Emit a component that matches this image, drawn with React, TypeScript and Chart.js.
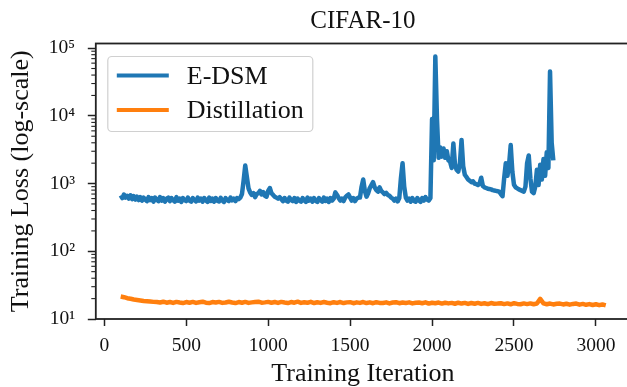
import React, { useEffect, useRef } from "react";
import { Chart, registerables } from "chart.js";

Chart.register(...registerables);

const FONT = "'Liberation Serif', 'DejaVu Serif', serif";
const TEXT_COLOR = "#111111";
const AXIS_COLOR = "#222222";

const chartTitle = "CIFAR-10";
const xAxisTitle = "Training Iteration";
const yAxisTitle = "Training Loss (log-scale)";
const seriesNames = ["E-DSM", "Distillation"];
const seriesColors = ["#1f77b4", "#ff7f0e"];

const xTickValues = [0, 500, 1000, 1500, 2000, 2500, 3000];
const yTickValues = [10, 100, 1000, 10000, 100000];
const yTickLabels = ["10¹", "10²", "10³", "10⁴", "10⁵"];

// E-DSM loss, logged every 10 iterations starting at iteration 100
const edsmFirstIter = 100;
const edsmIterStep = 10;
const edsmLoss = [
  670, 610, 690, 620, 660, 600, 670, 590, 650, 580,
  640, 570, 630, 560, 620, 580, 550, 630, 570, 610,
  540, 620, 580, 550, 630, 560, 610, 540, 600, 620,
  550, 610, 570, 540, 630, 560, 600, 535, 610, 570,
  550, 620, 560, 540, 610, 570, 545, 620, 560, 600,
  540, 610, 565, 535, 620, 555, 600, 540, 610, 560,
  545, 615, 560, 535, 610, 570, 550, 620, 565, 600,
  550, 610, 590, 620, 700, 1100, 1850, 1250, 850, 740,
  680, 720, 630, 700, 720, 780, 690, 750, 660, 640,
  780, 860, 720, 680, 640, 620, 600, 630, 590, 550,
  610, 560, 540, 620, 570, 550, 610, 535, 600, 560,
  540, 610, 565, 535, 620, 560, 600, 540, 610, 555,
  535, 610, 570, 540, 620, 555, 600, 535, 610, 560,
  600, 740, 680, 610, 560, 600, 550, 620, 660, 690,
  620, 560, 610, 550, 600, 620, 620, 900, 1150, 780,
  640, 720, 860, 950, 1050, 880, 800, 760, 880, 780,
  740, 700, 730, 680, 660, 620, 600, 560, 600, 545,
  610, 1200, 2000, 900, 620, 560, 600, 540, 610, 555,
  540, 610, 565, 535, 610, 560, 630, 580, 560, 610,
  9000, 2200, 75000, 9200, 2400, 3400, 2500, 3300, 2400, 3000,
  2200, 2100, 1700, 3900, 1900, 1600, 1500, 2000, 4400, 1800,
  1350, 1250, 1150, 1100, 1050, 1080, 1000, 980, 950, 1000,
  1220, 920, 880, 860, 840, 830, 820, 800, 790, 780,
  770, 760, 700, 650, 1200, 2000, 1300, 1900, 3700, 1500,
  960, 880, 850, 820, 800, 780, 760, 900, 2000, 2600,
  1200, 760, 720, 900, 1600, 950, 1900, 1150, 2300, 1300,
  2900, 1700, 45000, 4000, 2200,
];

// Distillation loss, logged every 20 iterations starting at iteration 100
const distFirstIter = 100;
const distIterStep = 20;
const distLoss = [
  21.5, 21.0, 20.3, 19.9, 19.4, 19.1, 18.8, 18.5, 18.3, 18.1, 17.9,
  17.8, 17.5, 18.0, 17.4, 17.8, 17.3, 17.9, 17.5, 17.2, 17.8,
  17.4, 17.9, 17.3, 17.7, 18.0, 17.4, 17.2, 17.8, 17.5, 17.9,
  17.3, 17.5, 18.0, 17.5, 17.2, 17.8, 17.4, 17.9, 17.3, 17.6,
  17.8, 18.0, 17.4, 17.6, 17.9,
  17.4, 17.8, 17.3, 17.9, 17.5, 17.2, 17.8, 17.4, 18.0, 17.3,
  17.7, 17.4, 17.9, 17.2, 17.7, 17.3, 17.8, 17.4, 17.1, 17.7,
  17.3, 17.8, 17.2, 17.6, 17.7, 17.1, 17.6, 17.3, 17.8, 17.2,
  17.6, 17.1, 17.7, 17.3, 17.2, 17.6, 17.0, 17.5, 17.7, 17.1,
  17.5, 17.2, 17.6, 17.0, 17.4, 17.5, 17.1, 17.6, 16.9, 17.4,
  17.1, 17.5, 16.9, 17.4, 17.0, 17.3, 16.8, 17.4, 16.9, 17.3,
  16.7, 17.2, 16.8, 17.3, 16.7, 17.1, 16.6, 17.2, 16.8, 16.9,
  17.1, 16.6, 17.0, 16.5, 17.1, 16.7, 16.5, 17.0, 16.6, 17.0,
  16.5, 16.9, 19.8, 17.0, 16.5, 16.9, 16.4, 16.8, 16.9, 16.4,
  16.8, 16.3, 16.7, 16.9, 16.3, 16.7, 16.2, 16.6, 16.1, 16.5,
  16.0, 16.4, 15.9,
];

const toPoints = (first: number, step: number, values: number[]) =>
  values.map((y, i) => ({ x: first + step * i, y }));

const decorPlugin = {
  id: "decor",
  afterDatasetsDraw(chart: any) {
    const { ctx, chartArea: a, scales } = chart;
    const yScale = scales.y;
    ctx.save();
    // minor log ticks
    ctx.strokeStyle = AXIS_COLOR;
    ctx.lineWidth = 1.1;
    for (let d = 1; d <= 4; d++) {
      for (let m = 2; m <= 9; m++) {
        const v = m * Math.pow(10, d);
        if (v > yScale.max) continue;
        const py = yScale.getPixelForValue(v);
        ctx.beginPath();
        ctx.moveTo(a.left - 4.5, py);
        ctx.lineTo(a.left, py);
        ctx.stroke();
      }
    }
    // frame
    ctx.lineWidth = 1.8;
    ctx.strokeRect(a.left, a.top, a.right - a.left, a.bottom - a.top);

    // legend
    ctx.font = `26px ${FONT}`;
    const boxX = a.left + 12;
    const boxY = a.top + 13;
    const textX = boxX + 79;
    let maxW = 0;
    seriesNames.forEach((n) => (maxW = Math.max(maxW, ctx.measureText(n).width)));
    const boxW = textX + maxW + 9 - boxX;
    const boxH = 75;
    ctx.beginPath();
    const r = 4;
    ctx.moveTo(boxX + r, boxY);
    ctx.arcTo(boxX + boxW, boxY, boxX + boxW, boxY + boxH, r);
    ctx.arcTo(boxX + boxW, boxY + boxH, boxX, boxY + boxH, r);
    ctx.arcTo(boxX, boxY + boxH, boxX, boxY, r);
    ctx.arcTo(boxX, boxY, boxX + boxW, boxY, r);
    ctx.closePath();
    ctx.fillStyle = "rgba(255,255,255,0.8)";
    ctx.fill();
    ctx.strokeStyle = "#d0d0d0";
    ctx.lineWidth = 1.2;
    ctx.stroke();
    const rows = [boxY + 19, boxY + 53.5];
    seriesNames.forEach((name, i) => {
      const ry = rows[i];
      ctx.strokeStyle = seriesColors[i];
      ctx.lineWidth = 4;
      ctx.beginPath();
      ctx.moveTo(boxX + 9, ry);
      ctx.lineTo(boxX + 61, ry);
      ctx.stroke();
      ctx.fillStyle = TEXT_COLOR;
      ctx.textBaseline = "alphabetic";
      ctx.textAlign = "left";
      ctx.fillText(name, textX, ry + 8);
    });
    ctx.restore();
  },
};

export default function App() {
  const canvasRef = useRef<HTMLCanvasElement | null>(null);

  useEffect(() => {
    if (!canvasRef.current) return;
    const chart = new Chart(canvasRef.current, {
      type: "line",
      data: {
        datasets: [
          {
            label: seriesNames[0],
            data: toPoints(edsmFirstIter, edsmIterStep, edsmLoss),
            borderColor: seriesColors[0],
            backgroundColor: seriesColors[0],
            borderWidth: 4.5,
            pointRadius: 0,
            tension: 0,
            borderJoinStyle: "round",
          },
          {
            label: seriesNames[1],
            data: toPoints(distFirstIter, distIterStep, distLoss),
            borderColor: seriesColors[1],
            backgroundColor: seriesColors[1],
            borderWidth: 4.5,
            pointRadius: 0,
            tension: 0,
            borderJoinStyle: "round",
          },
        ],
      },
      options: {
        animation: false,
        responsive: false,
        devicePixelRatio: 1,
        layout: { padding: { left: 0, right: 10, top: 0, bottom: 0 } },
        plugins: {
          legend: { display: false },
          tooltip: { enabled: false },
          title: {
            display: true,
            text: chartTitle,
            fullSize: false,
            color: TEXT_COLOR,
            font: { family: FONT, size: 25, weight: "normal", lineHeight: 1.2 },
            padding: { top: 6, bottom: 7.5 },
          },
        },
        scales: {
          x: {
            type: "linear",
            min: -52,
            max: 3208,
            afterBuildTicks: (s: any) => {
              s.ticks = xTickValues.map((v) => ({ value: v }));
            },
            afterFit: (s: any) => {
              s.height = 68;
            },
            grid: {
              display: true,
              drawOnChartArea: false,
              drawTicks: true,
              tickLength: 7,
              tickColor: AXIS_COLOR,
              tickWidth: 1.5,
            },
            border: { display: false },
            ticks: {
              color: TEXT_COLOR,
              font: { family: FONT, size: 19.5, lineHeight: 1.2 },
              padding: 8,
              maxRotation: 0,
              autoSkip: false,
              callback: (v: any) => String(v),
            },
            title: {
              display: true,
              text: xAxisTitle,
              color: TEXT_COLOR,
              font: { family: FONT, size: 26, lineHeight: 1 },
              padding: { top: 0, bottom: 0 },
            },
          },
          y: {
            type: "logarithmic",
            min: 10,
            max: 117000,
            afterBuildTicks: (s: any) => {
              s.ticks = yTickValues.map((v) => ({ value: v }));
            },
            afterFit: (s: any) => {
              s.width = 95.8;
            },
            grid: {
              display: true,
              drawOnChartArea: false,
              drawTicks: true,
              tickLength: 8,
              tickColor: AXIS_COLOR,
              tickWidth: 1.5,
            },
            border: { display: false },
            ticks: {
              color: TEXT_COLOR,
              font: { family: FONT, size: 19.5, lineHeight: 1.2 },
              padding: 12.8,
              autoSkip: false,
              callback: (_v: any, i: number) => yTickLabels[i],
            },
            title: {
              display: true,
              text: yAxisTitle,
              color: TEXT_COLOR,
              font: { family: FONT, size: 26, lineHeight: 1 },
              padding: { top: 8, bottom: 0 },
            },
          },
        },
      },
      plugins: [decorPlugin],
    } as any);
    return () => chart.destroy();
  }, []);

  return (
    <div
      style={{
        position: "fixed",
        left: 0,
        top: 0,
        width: 627,
        height: 387,
        overflow: "hidden",
        background: "#ffffff",
      }}
    >
      <canvas ref={canvasRef} width={640} height={387} style={{ display: "block" }} />
    </div>
  );
}
